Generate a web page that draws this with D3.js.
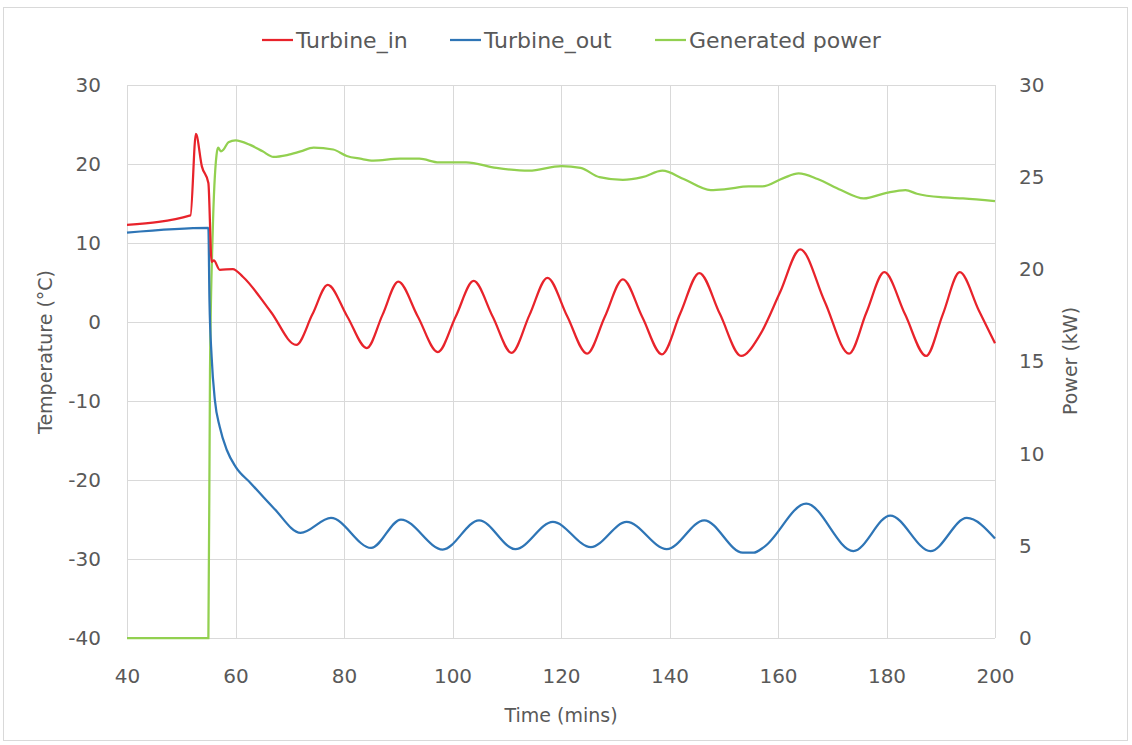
<html>
<head>
<script src="https://d3js.org/d3.v7.min.js"></script>
<style>
body { margin: 0; background: #fff; }
text { font-family: "DejaVu Sans", sans-serif; fill: #595959; }
</style>
</head>
<body>
<svg id="chart" width="1132" height="745"></svg>
<script>
// Turbine_in (red)
var tinTime = [40, 51.7, 52.7, 53.8, 55.0, 55.6, 56.0, 57.1, 59.5, 61.4, 66.5, 71.2, 74.2, 77.0, 80.6, 84.2, 87.1, 90.0, 93.6,
  97.3, 100.6, 103.9, 107.4, 110.9, 114.2, 117.5, 121.1, 124.8, 128.1, 131.4, 135.0, 138.6, 142.0, 145.5, 149.3, 153.2,
  156.7, 160.4, 164.1, 168.6, 173.1, 176.3, 179.6, 183.4, 187.3, 190.4, 193.5, 197.0, 200];
var tinVals = [12.3, 13.5, 23.8, 19.7, 17.6, 7.6, 7.8, 6.6, 6.7, 5.7, 1.3, -2.9, 1.0, 4.7, 0.7, -3.3, 0.9, 5.1, 0.7,
  -3.8, 0.7, 5.2, 0.7, -3.9, 0.9, 5.6, 0.8, -4.0, 0.7, 5.4, 0.6, -4.1, 1.1, 6.2, 1.0, -4.3,
  -1.6, 3.8, 9.2, 2.6, -4.0, 1.2, 6.3, 1.0, -4.3, 1.0, 6.3, 1.5, -2.7];

// Turbine_out (blue)
var toutTime = [40, 55.0, 55.2, 55.6, 56.2, 57.1, 58.4, 60.0, 62.8, 67.1, 72.0, 77.6, 85.0, 90.5, 98.2, 104.9, 111.6, 118.5,
  125.5, 132.1, 139.5, 146.4, 153.5, 155.5, 157.4, 165.2, 173.9, 180.7, 188.1, 194.8, 200];
var toutVals = [11.3, 11.9, 2.8, -4.4, -9.9, -13.3, -16.2, -18.3, -20.4, -23.6, -26.7, -24.8, -28.6, -25.0, -28.8, -25.1, -28.75, -25.3,
  -28.5, -25.3, -28.75, -25.1, -29.2, -29.2, -28.5, -23.0, -29.0, -24.5, -29.0, -24.8, -27.4];

// Generated power (green, right axis)
var powTime = [40, 55.0, 55.3, 55.8, 56.5, 56.8, 57.3, 57.8, 58.7, 60.0, 62.7, 65.0, 67.0, 69.5, 72.0, 74.4, 78.0, 80.5, 83.0,
  85.4, 90.3, 93.9, 97.5, 102.5, 108.1, 114.1, 120.1, 123.6, 127.1, 131.4, 135.0, 138.7, 142.6, 147.6, 150.4, 154.6,
  157.1, 161.0, 163.8, 167.3, 171.6, 175.8, 180.0, 183.5, 185.6, 190.6, 194.1, 200];
var powVals = [0, 0, 14.5, 22, 26.2, 26.6, 26.4, 26.5, 26.9, 27.0, 26.75, 26.4, 26.1, 26.2, 26.4, 26.6, 26.5, 26.15, 26.0,
  25.9, 26.0, 26.0, 25.8, 25.8, 25.5, 25.35, 25.6, 25.5, 25.0, 24.85, 25.0, 25.35, 24.9, 24.3, 24.35, 24.5,
  24.5, 24.95, 25.2, 24.9, 24.3, 23.85, 24.15, 24.3, 24.1, 23.9, 23.85, 23.7];

var xTicks = [40, 60, 80, 100, 120, 140, 160, 180, 200];
var tTicks = [30, 20, 10, 0, -10, -20, -30, -40];
var pTicks = [0, 5, 10, 15, 20, 25, 30];

var seriesNames = ["Turbine_in", "Turbine_out", "Generated power"];
var seriesColors = ["#e8232b", "#2e75b6", "#92d050"];

var svg = d3.select("#chart");
var plotL = 127, plotR = 995, plotT = 85, plotB = 638;

var x = d3.scaleLinear().domain([40, 200]).range([plotL, plotR]);
var yT = d3.scaleLinear().domain([-40, 30]).range([plotB, plotT]);
var yP = d3.scaleLinear().domain([0, 30]).range([plotB, plotT]);

// outer frame
svg.append("rect").attr("x", 3.5).attr("y", 7.5).attr("width", 1124).attr("height", 733)
  .attr("fill", "#fff").attr("stroke", "#d9d9d9");

// grid
svg.append("g").selectAll("line").data(tTicks).enter().append("line")
  .attr("x1", plotL).attr("x2", plotR)
  .attr("y1", function(d) { return Math.round(yT(d)) + 0.5; })
  .attr("y2", function(d) { return Math.round(yT(d)) + 0.5; })
  .attr("stroke", "#d9d9d9");
svg.append("g").selectAll("line").data(xTicks).enter().append("line")
  .attr("y1", plotT).attr("y2", plotB)
  .attr("x1", function(d) { return Math.round(x(d)) + 0.5; })
  .attr("x2", function(d) { return Math.round(x(d)) + 0.5; })
  .attr("stroke", "#d9d9d9");

// axes (plain hyphen for negatives, like the original)
var fmt = function(d) { return String(d); };
var ax = svg.append("g").attr("transform", "translate(0," + plotB + ")")
  .call(d3.axisBottom(x).tickValues(xTicks).tickFormat(fmt).tickSize(0).tickPadding(30));
var ayl = svg.append("g").attr("transform", "translate(" + plotL + ",0)")
  .call(d3.axisLeft(yT).tickValues(tTicks).tickFormat(fmt).tickSize(0).tickPadding(26));
var ayr = svg.append("g").attr("transform", "translate(" + plotR + ",0)")
  .call(d3.axisRight(yP).tickValues(pTicks).tickFormat(fmt).tickSize(0).tickPadding(24));
[ax, ayl, ayr].forEach(function(g) {
  g.select(".domain").remove();
  g.selectAll("text").style("font-size", "20px").attr("fill", "#595959");
});
ax.selectAll("text").attr("dy", "0.35em").attr("y", 38);

// lines
var line = function(ys) {
  return d3.line()
    .x(function(d) { return x(d[0]); })
    .y(function(d) { return ys(d[1]); })
    .curve(d3.curveMonotoneX);
};
var zip = function(a, b) { return a.map(function(v, i) { return [v, b[i]]; }); };

svg.append("path").datum(zip(powTime, powVals)).attr("d", line(yP))
  .attr("fill", "none").attr("stroke", seriesColors[2]).attr("stroke-width", 2.25);
svg.append("path").datum(zip(toutTime, toutVals)).attr("d", line(yT))
  .attr("fill", "none").attr("stroke", seriesColors[1]).attr("stroke-width", 2.25);
svg.append("path").datum(zip(tinTime, tinVals)).attr("d", line(yT))
  .attr("fill", "none").attr("stroke", seriesColors[0]).attr("stroke-width", 2.25);

// axis titles
svg.append("text").attr("transform", "translate(52,352) rotate(-90)")
  .attr("text-anchor", "middle").style("font-size", "19px").text("Temperature (°C)");
svg.append("text").attr("transform", "translate(1077,361) rotate(-90)")
  .attr("text-anchor", "middle").style("font-size", "19px").text("Power (kW)");
svg.append("text").attr("x", 561).attr("y", 722)
  .attr("text-anchor", "middle").style("font-size", "19px").text("Time (mins)");

// legend
var legX = [262, 450, 655];
var leg = svg.append("g").selectAll("g").data(seriesNames).enter().append("g")
  .attr("transform", function(d, i) { return "translate(" + legX[i] + ",40)"; });
leg.append("line").attr("x1", 0).attr("x2", 31).attr("y1", 0).attr("y2", 0)
  .attr("stroke", function(d, i) { return seriesColors[i]; }).attr("stroke-width", 2.25);
leg.append("text").attr("x", 34).attr("dy", "0.35em").style("font-size", "22px")
  .text(function(d) { return d; });
</script>
</body>
</html>
